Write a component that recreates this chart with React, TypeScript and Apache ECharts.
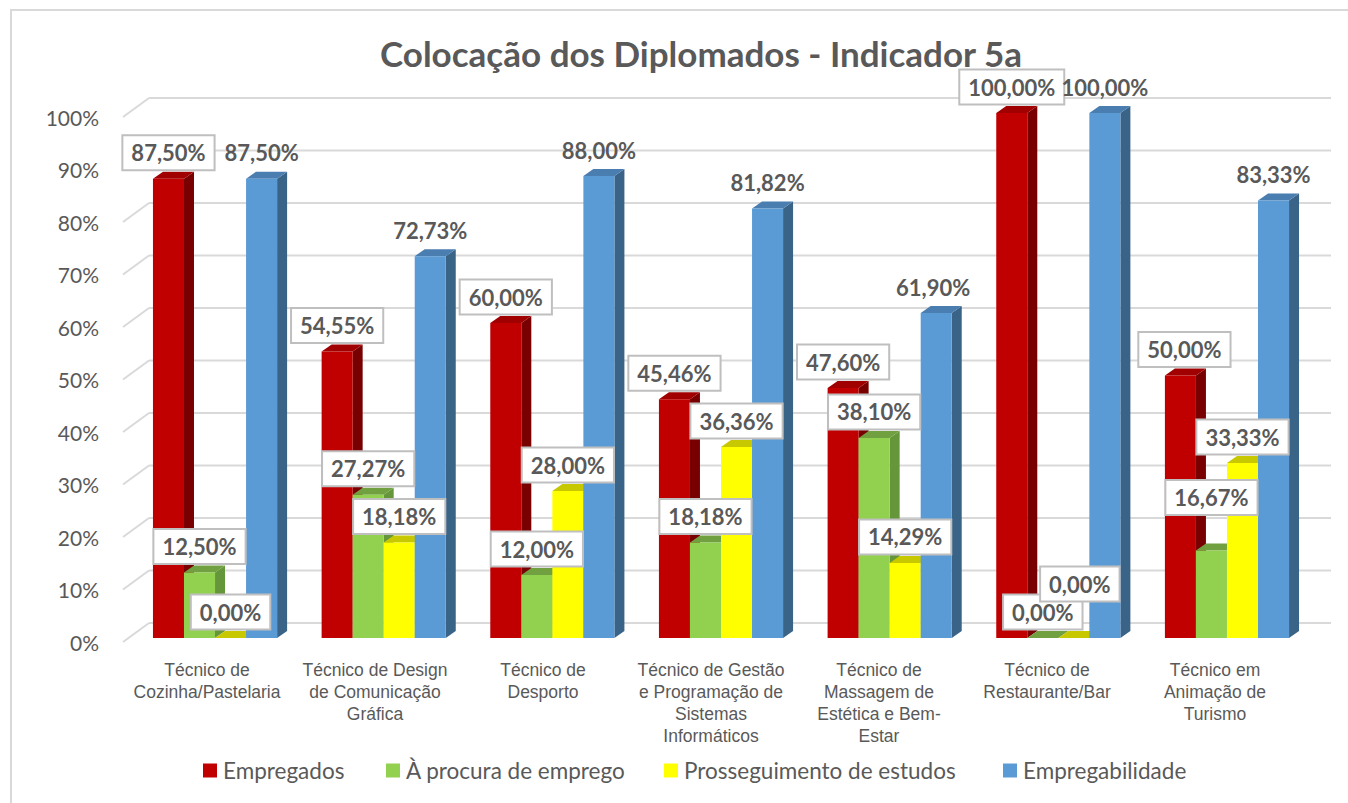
import React, { useEffect, useRef } from "react";
import * as echarts from "echarts";

const categories = [
  "Técnico de\nCozinha/Pastelaria",
  "Técnico de Design\nde Comunicação\nGráfica",
  "Técnico de\nDesporto",
  "Técnico de Gestão\ne Programação de\nSistemas\nInformáticos",
  "Técnico de\nMassagem de\nEstética e Bem-\nEstar",
  "Técnico de\nRestaurante/Bar",
  "Técnico em\nAnimação de\nTurismo",
];
const empregados = [87.5, 54.55, 60.0, 45.46, 47.6, 100.0, 50.0];
const procura = [12.5, 27.27, 12.0, 18.18, 38.1, 0.0, 16.67];
const prosseguimento = [0.0, 18.18, 28.0, 36.36, 14.29, 0.0, 33.33];
const empregabilidade = [87.5, 72.73, 88.0, 81.82, 61.9, 100.0, 83.33];
const seriesNames = ["Empregados", "À procura de emprego", "Prosseguimento de estudos", "Empregabilidade"];
const yTicks = [0, 10, 20, 30, 40, 50, 60, 70, 80, 90, 100];
const title = "Colocação dos Diplomados - Indicador 5a";

const seriesValues = [empregados, procura, prosseguimento, empregabilidade];
const palette = [
  { front: "#C00000", top: "#A00000", side: "#780000" },
  { front: "#92D050", top: "#70A040", side: "#66963A" },
  { front: "#FFFF00", top: "#C8C800", side: "#B4B400" },
  { front: "#5B9BD5", top: "#4A7DB0", side: "#3A6388" },
];
const boxed = [true, true, true, false];
// manual label nudges "series-category" -> [dx, dy]
const labelNudge: Record<string, [number, number]> = {
  "2-5": [6, -28],
  "1-6": [0, -27],
  "0-6": [4, 0],
  "3-4": [-3, 0],
};

const TEXT = "#595959";
const LABEL_FONT = "Lato, 'Open Sans', sans-serif";
const CAT_FONT = "'Liberation Sans', Arial, sans-serif";

const fmt = (v: number) => v.toFixed(2).replace(".", ",") + "%";

function makeRender(si: number) {
  return (params: any, api: any) => {
    const cat = api.value(0);
    const v = api.value(1);
    const base = api.coord([cat, 0]);
    const top = api.coord([cat, v]);
    const band = api.size([1, 0])[0];
    const bw = band * 0.184;
    const x0 = base[0] + (si - 2) * bw;
    const x1 = x0 + bw;
    const yb = base[1];
    const yt = top[1];
    const dx = 10;
    const dy = 7;
    const c = palette[si];
    const nudge = labelNudge[`${si}-${cat}`] || [0, 0];
    const children: any[] = [
      {
        type: "polygon",
        shape: { points: [[x1, yt], [x1 + dx, yt - dy], [x1 + dx, yb - dy], [x1, yb]] },
        style: { fill: c.side },
      },
      {
        type: "polygon",
        shape: { points: [[x0, yt], [x0 + dx, yt - dy], [x1 + dx, yt - dy], [x1, yt]] },
        style: { fill: c.top },
      },
      {
        type: "rect",
        shape: { x: x0, y: yt, width: bw, height: yb - yt },
        style: { fill: c.front },
      },
      {
        type: "text",
        z2: 100,
        x: (x0 + x1) / 2 + nudge[0],
        y: yt - 26 + nudge[1],
        style: {
          text: fmt(v),
          font: `bold 22px ${LABEL_FONT}`,
          fill: TEXT,
          align: "center",
          verticalAlign: "middle",
          backgroundColor: boxed[si] ? "#FFFFFF" : "transparent",
          borderColor: boxed[si] ? "#BFBFBF" : "transparent",
          borderWidth: boxed[si] ? 2 : 0,
          padding: [6, 8, 5, 8],
        },
      },
    ];
    return { type: "group", children };
  };
}

function gridRender(params: any, api: any) {
  const v = api.value(1);
  const p = api.coord([0, v]);
  const cs = params.coordSys;
  const x0 = cs.x;
  const ddx = 26;
  const ddy = 19;
  const style = { stroke: "#D9D9D9", lineWidth: 2 };
  return {
    type: "group",
    children: [
      { type: "line", shape: { x1: x0, y1: p[1], x2: x0 + ddx, y2: p[1] - ddy }, style },
      { type: "line", shape: { x1: x0 + ddx, y1: p[1] - ddy, x2: x0 + ddx + cs.width + 6, y2: p[1] - ddy }, style },
    ],
  };
}

export default function App() {
  const ref = useRef<HTMLDivElement>(null);
  useEffect(() => {
    if (!ref.current) return;
    const chart = echarts.init(ref.current, undefined, { renderer: "svg" });
    const legendLefts = [203, 386, 664, 1003];
    const option: any = {
      animation: false,
      backgroundColor: "#FFFFFF",
      title: {
        text: title,
        left: 696,
        top: 30,
        textAlign: "center",
        textStyle: { fontFamily: LABEL_FONT, fontWeight: "bold", fontSize: 35, color: TEXT },
      },
      legend: seriesNames.map((n, i) => ({
        data: [n],
        left: legendLefts[i],
        top: 759,
        padding: 0,
        icon: "rect",
        itemWidth: 14,
        itemHeight: 14,
        itemGap: 0,
        selectedMode: false,
        textStyle: { fontFamily: LABEL_FONT, fontSize: 22.5, color: TEXT, padding: [0, 0, 0, 1] },
      })),
      graphic: [
        {
          type: "rect",
          shape: { x: 11, y: 10, width: 1400, height: 900 },
          style: { fill: "none", stroke: "#D9D9D9", lineWidth: 2 },
          silent: true,
          z: -10,
        },
      ],
      grid: [
        { left: 123, right: 49, top: 117, bottom: 161 },
        { left: 130.7, right: 36.7, top: 113, bottom: 165 },
      ],
      xAxis: [
        {
          type: "category",
          gridIndex: 0,
          data: categories,
          axisLine: { show: false },
          axisTick: { show: false },
          axisLabel: {
            interval: 0,
            margin: 17,
            fontFamily: CAT_FONT,
            fontSize: 17.5,
            lineHeight: 22,
            color: TEXT,
          },
        },
        {
          type: "category",
          gridIndex: 1,
          data: categories,
          show: false,
        },
      ],
      yAxis: [
        {
          type: "value",
          gridIndex: 0,
          min: 0,
          max: 100,
          interval: 10,
          axisLine: { show: false },
          axisTick: { show: false },
          splitLine: { show: false },
          axisLabel: {
            formatter: "{value}%",
            margin: 24,
            fontFamily: LABEL_FONT,
            fontSize: 21,
            color: TEXT,
          },
        },
        {
          type: "value",
          gridIndex: 1,
          min: 0,
          max: 100,
          interval: 10,
          show: false,
        },
      ],
      series: [
        {
          type: "custom",
          name: "grid3d",
          xAxisIndex: 0,
          yAxisIndex: 0,
          z: 1,
          silent: true,
          renderItem: gridRender,
          data: yTicks.map((t) => [0, t]),
        },
        ...seriesNames.map((n, si) => ({
          type: "custom",
          name: n,
          xAxisIndex: 1,
          yAxisIndex: 1,
          z: 2,
          itemStyle: { color: palette[si].front },
          renderItem: makeRender(si),
          data: seriesValues[si].map((v, i) => [i, v]),
        })),
      ],
    };
    chart.setOption(option);
    return () => chart.dispose();
  }, []);
  return (
    <div
      ref={ref}
      style={{ position: "fixed", left: 0, top: 0, width: 1348, height: 803 }}
    />
  );
}
